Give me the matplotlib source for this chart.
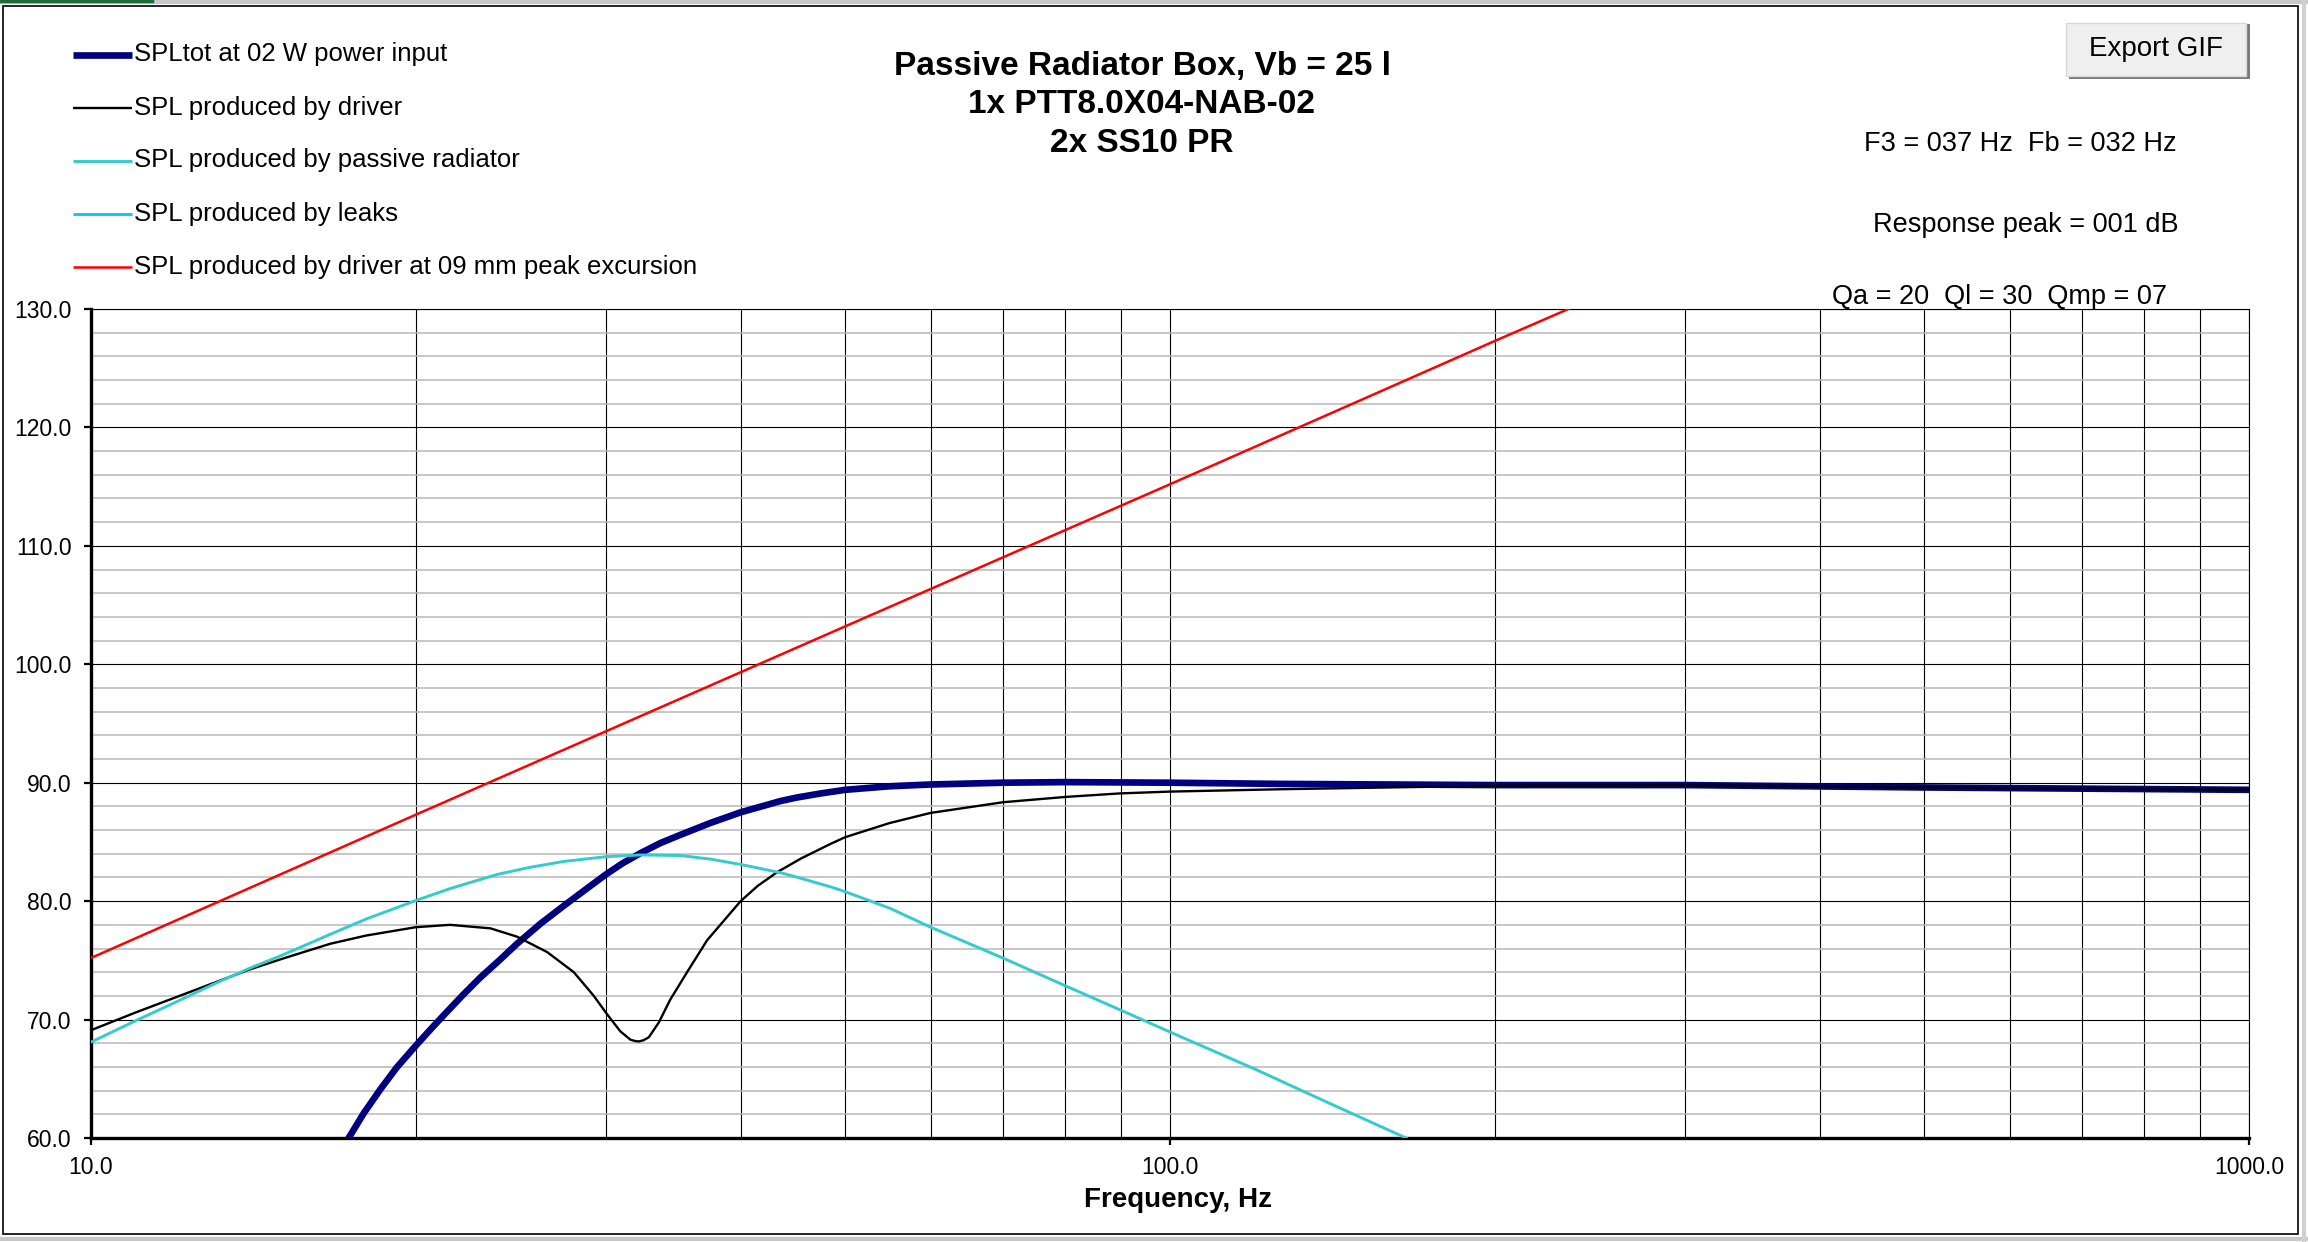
import matplotlib
matplotlib.use("Agg")
import matplotlib.pyplot as plt
from matplotlib.lines import Line2D
from matplotlib.patches import Rectangle
from matplotlib.ticker import FixedLocator, MultipleLocator, NullFormatter, FormatStrFormatter

plt.rcParams['font.family'] = ['Liberation Sans', 'DejaVu Sans']

# SPL curves (frequency in Hz, level in dB)
tot_freq = [17.33, 17.9, 18.54, 19.2, 20, 20.7, 21.37, 22.1, 22.95, 23.9, 24.82, 26.1, 27.42,
            28.7, 30, 31.1, 32.3, 33.7, 35.18, 37.5, 40, 43.55, 45.1, 47.5, 50, 55, 60, 70, 80,
            100, 126.8, 200, 300, 500, 700, 1000]
tot_spl = [60.0, 62.1, 64.1, 65.95, 67.8, 69.3, 70.65, 72.05, 73.55, 75.0, 76.4, 78.1, 79.6,
           80.95, 82.25, 83.2, 84.05, 84.9, 85.6, 86.6, 87.5, 88.45, 88.75, 89.1, 89.4, 89.7,
           89.85, 90.0, 90.05, 90.0, 89.9, 89.8, 89.8, 89.6, 89.5, 89.4]

drv_freq = [10, 11, 12, 13, 14, 15, 16, 16.66, 18, 20, 21.52, 23.46, 24.82, 26.47, 28.02,
            29.24, 30.08, 30.95, 31.62, 31.9, 32.19, 32.5, 32.88, 33.59, 34.43, 35.68, 37.24,
            40, 41.5, 43.25, 45.5, 48.5, 50, 55, 60, 70, 80, 90, 100, 126.8, 200, 300, 500, 700,
            1000]
drv_spl = [69.1, 70.6, 71.9, 73.1, 74.2, 75.1, 75.9, 76.4, 77.1, 77.8, 78.0, 77.7, 77.0, 75.7,
           74.0, 72.0, 70.45, 69.0, 68.3, 68.2, 68.15, 68.25, 68.5, 69.75, 71.7, 74.0, 76.7,
           80.0, 81.3, 82.45, 83.6, 84.85, 85.4, 86.6, 87.45, 88.35, 88.8, 89.1, 89.25, 89.45,
           89.75, 89.8, 89.6, 89.5, 89.4]

pr_freq = [10, 11, 12, 13, 14, 15, 16, 16.66, 18, 20, 21.5, 23.78, 25.5, 27.42, 30, 32.3,
           35.18, 37.5, 40, 43.55, 45, 48.5, 50, 55, 60, 70, 80, 90, 100, 120, 140, 165.5]
pr_spl = [68.1, 69.9, 71.5, 73.0, 74.3, 75.4, 76.5, 77.2, 78.5, 80.05, 81.05, 82.25, 82.85,
          83.35, 83.75, 83.9, 83.85, 83.55, 83.1, 82.4, 82.05, 81.2, 80.8, 79.4, 77.8, 75.2,
          72.85, 70.8, 68.95, 65.8, 63.0, 60.0]

# leaks stay below the 60 dB floor of the chart
leak_freq = []
leak_spl = []

exc_freq = [10, 20, 50, 100, 200, 234]
exc_spl = [75.2, 87.3, 103.2, 115.2, 127.3, 130.0]

labels = ["SPLtot at 02 W power input",
          "SPL produced by driver",
          "SPL produced by passive radiator",
          "SPL produced by leaks",
          "SPL produced by driver at 09 mm peak excursion"]
title_lines = ["Passive Radiator Box, Vb = 25 l", "1x PTT8.0X04-NAB-02", "2x SS10 PR"]
info_lines = ["F3 = 037 Hz  Fb = 032 Hz", "Response peak = 001 dB", "Qa = 20  Ql = 30  Qmp = 07"]

W, H = 2308, 1242


def fx(px):
    return px / W


def fy(py):
    return 1 - py / H


fig = plt.figure(figsize=(W / 100, H / 100), dpi=100)
fig.patch.set_facecolor("white")

# spreadsheet cells peeking around the chart object
for yy in [2, 1239]:
    fig.add_artist(Line2D([0, 1], [fy(yy), fy(yy)], color="#c8c8c8", lw=3, zorder=-3))
fig.add_artist(Line2D([fx(2304), fx(2304)], [0, 1], color="#d0d0d0", lw=3, zorder=-3))
fig.add_artist(Line2D([0, fx(152)], [fy(1), fy(1)], color="#1e6b3a", lw=2.5, zorder=-3))

# chart border
fig.add_artist(Rectangle((fx(2.5), fy(1234)), fx(2298 - 2.5), (1234 - 6) / H,
                         fill=True, facecolor="white", edgecolor="black", lw=1.2, zorder=-2))

ax = fig.add_axes([fx(91), fy(1138), fx(2249 - 91), (1138 - 309) / H])
ax.set_xscale("log")
ax.set_xlim(10, 1000)
ax.set_ylim(60, 130)

l_tot, = ax.plot(tot_freq, tot_spl, color="#000080", lw=4.8, zorder=3)
l_drv, = ax.plot(drv_freq, drv_spl, color="black", lw=1.7, zorder=4)
l_pr, = ax.plot(pr_freq, pr_spl, color="#33CCCC", lw=2.1, zorder=4)
l_leak, = ax.plot(leak_freq, leak_spl, color="#00CCFF", lw=2.1, zorder=4)
l_exc, = ax.plot(exc_freq, exc_spl, color="#FF0000", lw=1.8, zorder=5)

ax.xaxis.set_major_locator(FixedLocator([10, 100, 1000]))
ax.xaxis.set_major_formatter(FormatStrFormatter("%.1f"))
ax.xaxis.set_minor_formatter(NullFormatter())
ax.yaxis.set_major_locator(MultipleLocator(10))
ax.yaxis.set_minor_locator(MultipleLocator(2))
ax.yaxis.set_major_formatter(FormatStrFormatter("%.1f"))

ax.set_axisbelow(True)
ax.grid(which="minor", axis="y", color="#b8b8b8", lw=1.1)
ax.grid(which="major", axis="y", color="black", lw=0.8)
ax.grid(which="both", axis="x", color="black", lw=0.8)

ax.tick_params(axis="both", which="major", direction="out", length=5, width=1.6,
               labelsize=16.5, color="black")
ax.tick_params(axis="y", which="major", pad=9)
ax.tick_params(axis="x", which="major", pad=8)
ax.tick_params(which="minor", length=0)

for side in ["left", "bottom"]:
    ax.spines[side].set_linewidth(2.4)
for side in ["top", "right"]:
    ax.spines[side].set_linewidth(0.8)

fig.text(fx(1178), fy(1200), "Frequency, Hz", ha="center", va="center",
         fontsize=20, fontweight="bold")

# legend drawn by hand, top-left of the chart object
rows = [54.5, 107.5, 160.5, 213.5, 266.5]
for line, lab, ry in zip([l_tot, l_drv, l_pr, l_leak, l_exc], labels, rows):
    fig.add_artist(Line2D([fx(73), fx(132)], [fy(ry), fy(ry)], color=line.get_color(),
                          lw=line.get_linewidth(), solid_capstyle="butt"))
    fig.text(fx(134), fy(ry), lab, ha="left", va="center", fontsize=18.5)

for txt, ty in zip(title_lines, [66, 104.5, 144]):
    fig.text(fx(1142), fy(ty), txt, ha="center", va="center", fontsize=24, fontweight="bold")

for txt, (tx, ty) in zip(info_lines, [(2020, 144), (2026, 225), (2000, 297)]):
    fig.text(fx(tx), fy(ty), txt, ha="center", va="center", fontsize=19.5)

# "Export GIF" button
fig.add_artist(Rectangle((fx(2069), fy(79)), fx(181), 55 / H, facecolor="#7a7a7a",
                         edgecolor="none"))
fig.add_artist(Rectangle((fx(2066), fy(76)), fx(180), 53 / H, facecolor="#efefef",
                         edgecolor="#d8d8d8", lw=1))
fig.text(fx(2156), fy(49), "Export GIF", ha="center", va="center", fontsize=20)

fig.savefig("out.png", dpi=100)
plt.close(fig)
